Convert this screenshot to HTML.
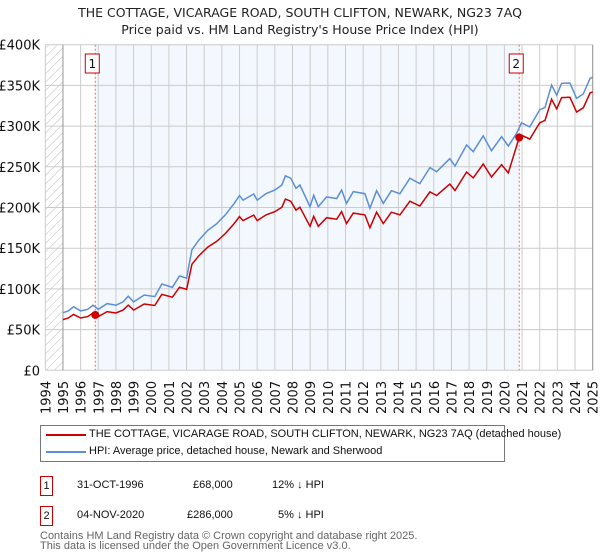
<!DOCTYPE html>
<html><head><meta charset="utf-8"><style>
body{margin:0;background:#fff;font-family:"DejaVu Sans","Liberation Sans",sans-serif;}
#wrap{position:relative;width:600px;height:560px;overflow:hidden}
</style></head><body><div id="wrap">
<svg id="chart" width="600" height="560" style="position:absolute;left:0;top:0">
<defs><pattern id="hatch" width="6" height="6" patternUnits="userSpaceOnUse" patternTransform="rotate(45)"><line x1="0" y1="0" x2="0" y2="6" stroke="#bbb" stroke-width="1"/></pattern></defs>
<text x="300" y="17" text-anchor="middle" font-size="12.5" fill="#222">THE COTTAGE, VICARAGE ROAD, SOUTH CLIFTON, NEWARK, NG23 7AQ</text>
<text x="300" y="34" text-anchor="middle" font-size="12.5" fill="#222">Price paid vs. HM Land Registry's House Price Index (HPI)</text>
<g id="plot"></g>
</svg>
<div style="position:absolute;left:40px;top:425px;width:463px;height:35px;border:1px solid #777;font-size:11px;font-family:'Liberation Sans',sans-serif;color:#111">
<div style="position:absolute;left:5px;top:8px;width:40px;height:2px;background:#cc0000"></div>
<div style="position:absolute;left:48px;top:2px;white-space:nowrap">THE COTTAGE, VICARAGE ROAD, SOUTH CLIFTON, NEWARK, NG23 7AQ (detached house)</div>
<div style="position:absolute;left:5px;top:25px;width:40px;height:2px;background:#5b8fd6"></div>
<div style="position:absolute;left:48px;top:19px;white-space:nowrap">HPI: Average price, detached house, Newark and Sherwood</div>
</div>
<div style="font-size:11px;font-family:'Liberation Sans',sans-serif;color:#111">
<div style="position:absolute;left:40px;top:476px;width:11px;height:18px;border:1px solid #cc0000;text-align:center;line-height:18px">1</div>
<div style="position:absolute;left:77px;top:479px">31-OCT-1996</div>
<div style="position:absolute;left:193px;top:479px">£68,000</div>
<div style="position:absolute;left:272px;top:479px">12% ↓ HPI</div>
<div style="position:absolute;left:40px;top:506px;width:11px;height:18px;border:1px solid #cc0000;text-align:center;line-height:18px">2</div>
<div style="position:absolute;left:77px;top:509px">04-NOV-2020</div>
<div style="position:absolute;left:187px;top:509px">£286,000</div>
<div style="position:absolute;left:278px;top:509px">5% ↓ HPI</div>
</div>
<div style="position:absolute;left:40px;top:531px;font-size:11px;font-family:'Liberation Sans',sans-serif;color:#666;line-height:10px">Contains HM Land Registry data © Crown copyright and database right 2025.<br>This data is licensed under the Open Government Licence v3.0.</div>
</div>
<script>
const hpiYears=[1995.0,1995.3,1995.6,1996.0,1996.4,1996.7,1997.0,1997.5,1998.0,1998.4,1998.7,1999.0,1999.6,2000.2,2000.6,2001.2,2001.6,2002.0,2002.3,2002.7,2003.2,2003.7,2004.2,2004.7,2005.0,2005.2,2005.8,2006.0,2006.5,2007.0,2007.4,2007.6,2007.9,2008.2,2008.42,2008.99,2009.2,2009.46,2009.93,2010.5,2010.78,2011.06,2011.44,2012.1,2012.38,2012.76,2013.14,2013.6,2014.08,2014.65,2015.21,2015.78,2016.16,2016.91,2017.2,2017.86,2018.23,2018.8,2019.27,2019.84,2020.22,2020.69,2020.97,2021.44,2022.0,2022.3,2022.67,2022.96,2023.24,2023.71,2024.09,2024.47,2024.85,2025.0];
const hpiValues=[70.8,73,78,73,75,80,75,82,80,84,91,84,92.5,90.5,106,102,116,113,148,160,172,180,191,205,214.6,209,216.6,209,217,221.5,227.7,239,236,223.6,227.7,201,215,201,213,211,221.5,205,219.5,217,199,220.7,205,220.7,217,236,229.4,249,244,260,251,276.8,268.6,288,269.8,287,275.6,291,304,299,320,323,350.5,338,352.6,353,334,339.5,358.7,360];
const saleYears=[1996.83,2020.84];
const salePrices=[68,286];
const saleRatios=[0.88,0.95];
const yTicks=[0,50,100,150,200,250,300,350,400];
const yTickLabels=["£0","£50K","£100K","£150K","£200K","£250K","£300K","£350K","£400K"];
const xTicks=[1994,1995,1996,1997,1998,1999,2000,2001,2002,2003,2004,2005,2006,2007,2008,2009,2010,2011,2012,2013,2014,2015,2016,2017,2018,2019,2020,2021,2022,2023,2024,2025];
const X0=45.3,X1=592.7,Y0=370.3,Y1=44.7;
const xs=y=>X0+(y-1994)/(2025-1994)*(X1-X0);
const ys=v=>Y0-v/400*(Y0-Y1);
const NS="http://www.w3.org/2000/svg";
const g=document.getElementById('plot');
function mk(t,a){const e=document.createElementNS(NS,t);for(const k in a)e.setAttribute(k,a[k]);g.appendChild(e);return e;}
let e;
e=mk('rect',{x:X0,y:Y1,width:xs(1995)-X0,height:Y0-Y1,fill:'url(#hatch)'});


e=mk('rect',{x:xs(saleYears[0]),y:Y1,width:xs(saleYears[1])-xs(saleYears[0]),height:Y0-Y1,fill:'#eef3fd',opacity:0.7});


yTicks.forEach((t,i)=>{
 e=mk('line',{x1:X0,x2:X1,y1:ys(t),y2:ys(t),stroke:'#ccc','stroke-width':1});
 
 
 e=mk('text',{x:40,y:ys(t)+5,'text-anchor':'end','font-size':13,fill:'#111'});
 e.textContent=yTickLabels[i];
 
 
});
xTicks.forEach(t=>{
 e=mk('line',{x1:xs(t),x2:xs(t),y1:Y1,y2:Y0,stroke:'#ccc','stroke-width':1});
 
 
 e=mk('text',{x:0,y:0,'font-size':13,fill:'#111',transform:`translate(${xs(t)+5},414) rotate(-90)`});
 e.textContent=t;
 
 
});
e=mk('line',{x1:xs(1995),x2:xs(1995),y1:Y1,y2:Y0,stroke:'#999'});


e=mk('line',{x1:X1,x2:X1,y1:Y1,y2:Y0,stroke:'#999'});


const hp=hpiYears.map((y,i)=>xs(y).toFixed(1)+','+ys(hpiValues[i]).toFixed(1)).join(' ');
const redPts=[];
hpiYears.forEach((y,i)=>{
 if(y<saleYears[1]-0.15) redPts.push([y,hpiValues[i]*saleRatios[0]]);
 if(y>saleYears[1]-0.15 && redPts.length && redPts[redPts.length-1][0]<saleYears[1]-0.15){redPts.push([saleYears[1],salePrices[1]]);}
 if(y>saleYears[1]) redPts.push([y,hpiValues[i]*saleRatios[1]]);
});
const rp=redPts.map(p=>xs(p[0]).toFixed(1)+','+ys(p[1]).toFixed(1)).join(' ');
e=mk('polyline',{points:hp,fill:'none',stroke:'#5b8fd6','stroke-width':1.5});


e=mk('polyline',{points:rp,fill:'none',stroke:'#cc0000','stroke-width':1.5});


saleYears.forEach((y,i)=>{
 e=mk('line',{x1:xs(y),x2:xs(y),y1:Y1,y2:Y0,stroke:'#ff6666','stroke-width':1,'stroke-dasharray':'2,2'});
 
 
 e=mk('circle',{cx:xs(y),cy:ys(salePrices[i]),r:4,fill:'#cc0000'});
 
 
 e=mk('rect',{x:xs(y)-10,y:54,width:14,height:19,fill:'#fff',stroke:'#cc0000'});
 
 
 e=mk('text',{x:xs(y)-3,y:68,'text-anchor':'middle','font-size':12,fill:'#111'});
 e.textContent=String(i+1);
 
 
});
</script>
</body></html>
